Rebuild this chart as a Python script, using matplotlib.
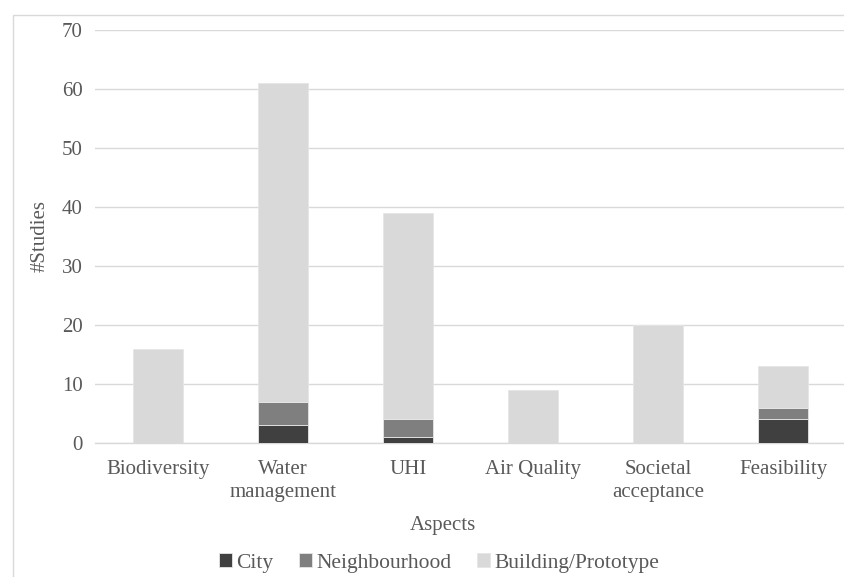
import numpy as np
import matplotlib
matplotlib.use("Agg")
import matplotlib.pyplot as plt
from matplotlib.patches import Rectangle

# data
aspects = ["Biodiversity", "Water\nmanagement", "UHI", "Air Quality",
           "Societal\nacceptance", "Feasibility"]
city = [0, 3, 1, 0, 0, 4]
neighbourhood = [0, 4, 3, 0, 0, 2]
building = [16, 54, 35, 9, 20, 7]

SERIES = [
    ("City", city, "#404040"),
    ("Neighbourhood", neighbourhood, "#7f7f7f"),
    ("Building/Prototype", building, "#d9d9d9"),
]
TEXT = "#595959"
GRID = "#d9d9d9"
FS = 15

plt.rcParams["font.family"] = ["Liberation Serif", "DejaVu Serif"]

fig = plt.figure(figsize=(8.44, 5.77), dpi=100)
ax = fig.add_axes([95 / 844, 1 - 443 / 577, 751 / 844, 413 / 577])

x = np.arange(len(aspects))
bottom = np.zeros(len(aspects))
for name, vals, col in SERIES:
    ax.bar(x, vals, width=0.4, bottom=bottom, color=col, label=name,
           edgecolor="#e6e6e6", linewidth=0.6, zorder=3)
    bottom += np.array(vals)

ax.set_xlim(-0.5, len(aspects) - 0.5)
ax.set_ylim(0, 70)
ax.set_yticks(range(0, 71, 10))
ax.set_xticks(x)
ax.set_xticklabels(aspects, fontsize=FS, color=TEXT, linespacing=1.3)
ax.tick_params(axis="y", labelsize=FS, labelcolor=TEXT, length=0, pad=9)
ax.tick_params(axis="x", length=0, pad=12)
ax.grid(axis="y", color=GRID, linewidth=1, zorder=0)
for s in ["top", "right", "left"]:
    ax.spines[s].set_visible(False)
ax.spines["bottom"].set_color(GRID)
ax.spines["bottom"].set_linewidth(1)

ax.set_ylabel("#Studies", fontsize=FS, color=TEXT, va="center")
ax.yaxis.set_label_coords((40 - 95) / 751, 0.5)
ax.set_xlabel("Aspects", fontsize=FS, color=TEXT)
ax.xaxis.set_label_coords((443 - 95) / 751, -0.176)

fig.legend(loc="center", bbox_to_anchor=(439 / 844, 1 - 563 / 577), ncol=3,
           frameon=False, fontsize=15.5, labelcolor=TEXT, handlelength=0.6,
           handleheight=0.6, handletextpad=0.2, columnspacing=1.2)

# light chart-area border like the spreadsheet export
fig.patches.append(Rectangle((13 / 844, -0.1), 1.1, 1 - 15 / 577 + 0.1,
                             transform=fig.transFigure, fill=False,
                             edgecolor=GRID, linewidth=1))

fig.savefig("out.png", dpi=100, facecolor="white")
plt.close(fig)
